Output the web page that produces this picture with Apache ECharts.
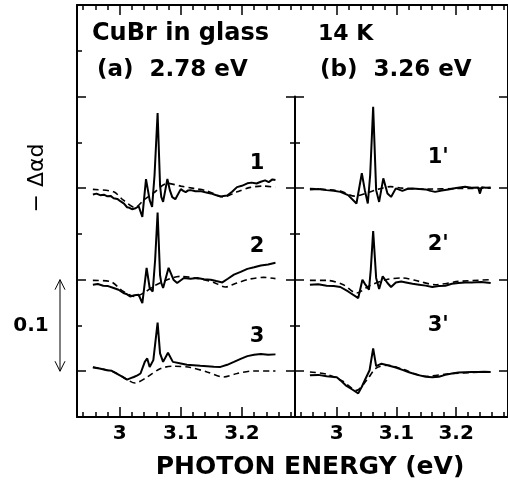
<!DOCTYPE html>
<html><head><meta charset="utf-8">
<script src="https://cdn.jsdelivr.net/npm/echarts@6/dist/echarts.min.js"></script>
<style>html,body{margin:0;padding:0;background:#fff}#c{width:508px;height:485px}</style>
</head><body><div id="c"></div>
<script>
// ---- tick values ----
const xMajorTicks = [3, 3.1, 3.2];
const xMinorTicks = [2.94, 2.96, 2.98, 3.02, 3.04, 3.06, 3.08, 3.12, 3.14, 3.16, 3.18, 3.22, 3.24, 3.26, 3.28];
const yMajorTicks = [0, 0.1, 0.2, 0.3];
const yMinorTicks = [0.05, 0.15, 0.25, 0.35];
const xRange = [2.93, 3.287];
const yRange = [-0.05, 0.4];
const dividerTop = 0.3;
const curveOffsets = [0.2, 0.1, 0];
const curveLabelsA = ['1', '2', '3'];
const curveLabelsB = ["1'", "2'", "3'"];
const labelPosA = [[3.225, 0.027], [3.225, 0.036], [3.225, 0.038]];
const labelPosB = [[3.17, 0.033], [3.17, 0.038], [3.17, 0.050]];
const scaleBar = [0, 0.1];

// ---- panel (a) 2.78 eV : [energy, -Δαd relative to its own baseline] ----
const a1Solid = [[2.956,-0.0069],[2.962,-0.0060],[2.968,-0.0077],[2.974,-0.0072],[2.979,-0.0088],[2.985,-0.0085],[2.990,-0.0110],[2.996,-0.0118],[3.001,-0.0143],[3.007,-0.0170],[3.012,-0.0209],[3.016,-0.0215],[3.020,-0.0231],[3.026,-0.0220],[3.031,-0.0198],[3.037,-0.0315],[3.043,0.0099],[3.049,-0.0132],[3.053,-0.0205],[3.057,0.0143],[3.062,0.0821],[3.066,0.0033],[3.068,-0.0096],[3.071,-0.0151],[3.078,0.0099],[3.082,-0.0022],[3.086,-0.0099],[3.091,-0.0121],[3.100,-0.0011],[3.104,-0.0030],[3.108,-0.0044],[3.112,-0.0025],[3.116,-0.0022],[3.124,-0.0035],[3.132,-0.0033],[3.140,-0.0045],[3.149,-0.0058],[3.157,-0.0075],[3.165,-0.0093],[3.170,-0.0085],[3.176,-0.0082],[3.184,-0.0040],[3.192,0.0011],[3.200,0.0025],[3.209,0.0052],[3.216,0.0060],[3.224,0.0050],[3.231,0.0069],[3.238,0.0085],[3.244,0.0065],[3.250,0.0095],[3.255,0.0088]];
const a1Dash = [[2.956,-0.0014],[2.990,-0.0041],[3.006,-0.0132],[3.025,-0.0212],[3.039,-0.0132],[3.055,-0.0055],[3.078,0.0052],[3.100,0.0022],[3.121,-0.0003],[3.143,-0.0030],[3.170,-0.0096],[3.192,-0.0041],[3.214,0.0008],[3.236,0.0022],[3.255,0.0008]];
const a2Solid = [[2.956,-0.0055],[2.964,-0.0048],[2.973,-0.0066],[2.981,-0.0070],[2.990,-0.0091],[2.998,-0.0110],[3.006,-0.0146],[3.012,-0.0160],[3.017,-0.0184],[3.024,-0.0170],[3.031,-0.0165],[3.037,-0.0256],[3.044,0.0129],[3.049,-0.0091],[3.054,-0.0129],[3.058,0.0220],[3.062,0.0733],[3.066,0.0050],[3.068,-0.0036],[3.071,-0.0091],[3.080,0.0129],[3.088,0.0000],[3.094,-0.0036],[3.105,0.0019],[3.116,0.0010],[3.127,0.0019],[3.138,0.0005],[3.149,0.0000],[3.158,-0.0015],[3.168,-0.0030],[3.177,0.0010],[3.187,0.0055],[3.198,0.0085],[3.209,0.0118],[3.220,0.0135],[3.231,0.0154],[3.243,0.0165],[3.255,0.0184]];
const a2Dash = [[2.956,-0.0008],[2.984,-0.0019],[3.006,-0.0129],[3.025,-0.0184],[3.039,-0.0146],[3.060,-0.0055],[3.100,0.0036],[3.132,0.0008],[3.154,-0.0030],[3.173,-0.0080],[3.192,-0.0036],[3.214,0.0008],[3.236,0.0025],[3.255,0.0011]];
const a3Solid = [[2.956,0.0041],[2.967,0.0030],[2.979,0.0011],[2.987,0.0005],[2.995,-0.0025],[3.004,-0.0060],[3.012,-0.0091],[3.018,-0.0075],[3.023,-0.0063],[3.029,-0.0045],[3.034,-0.0025],[3.041,0.0102],[3.045,0.0140],[3.049,0.0047],[3.055,0.0121],[3.062,0.0531],[3.066,0.0195],[3.071,0.0102],[3.079,0.0201],[3.087,0.0102],[3.100,0.0085],[3.110,0.0070],[3.121,0.0066],[3.132,0.0060],[3.143,0.0055],[3.154,0.0050],[3.165,0.0047],[3.176,0.0070],[3.187,0.0102],[3.198,0.0135],[3.209,0.0165],[3.220,0.0180],[3.231,0.0187],[3.243,0.0180],[3.255,0.0184]];
const a3Dash = [[2.956,0.0047],[2.990,-0.0008],[3.012,-0.0091],[3.025,-0.0129],[3.045,-0.0063],[3.067,0.0030],[3.088,0.0055],[3.116,0.0041],[3.143,-0.0008],[3.170,-0.0063],[3.192,-0.0025],[3.220,0.0003],[3.255,0.0003]];

// ---- panel (b) 3.26 eV ----
const b1Solid = [[2.955,-0.0014],[2.969,-0.0010],[2.983,-0.0022],[2.995,-0.0030],[3.006,-0.0041],[3.019,-0.0077],[3.033,-0.0168],[3.042,0.0162],[3.047,-0.0022],[3.052,-0.0168],[3.056,0.0143],[3.061,0.0887],[3.066,-0.0022],[3.071,-0.0151],[3.078,0.0107],[3.085,-0.0058],[3.091,-0.0096],[3.099,-0.0003],[3.110,-0.0030],[3.118,-0.0010],[3.127,-0.0003],[3.138,-0.0010],[3.149,-0.0014],[3.157,-0.0030],[3.165,-0.0041],[3.176,-0.0025],[3.187,-0.0014],[3.200,0.0000],[3.215,0.0014],[3.226,0.0005],[3.237,0.0008],[3.240,-0.0060],[3.243,0.0010],[3.250,0.0005],[3.258,0.0008]];
const b1Dash = [[2.955,-0.0005],[3.006,-0.0033],[3.030,-0.0088],[3.050,-0.0055],[3.070,-0.0011],[3.090,0.0016],[3.110,0.0000],[3.150,-0.0011],[3.200,-0.0005],[3.258,0.0000]];
const b2Solid = [[2.955,-0.0055],[2.969,-0.0050],[2.983,-0.0066],[2.995,-0.0070],[3.006,-0.0080],[3.019,-0.0129],[3.036,-0.0201],[3.043,0.0000],[3.048,-0.0055],[3.054,-0.0110],[3.057,0.0110],[3.061,0.0531],[3.066,0.0019],[3.071,-0.0102],[3.077,0.0036],[3.085,-0.0036],[3.091,-0.0080],[3.099,-0.0030],[3.108,-0.0020],[3.116,-0.0030],[3.127,-0.0045],[3.138,-0.0055],[3.149,-0.0065],[3.160,-0.0080],[3.171,-0.0070],[3.182,-0.0066],[3.193,-0.0045],[3.204,-0.0036],[3.215,-0.0030],[3.226,-0.0030],[3.242,-0.0025],[3.258,-0.0036]];
const b2Dash = [[2.955,-0.0008],[2.983,-0.0008],[3.011,-0.0055],[3.033,-0.0146],[3.055,-0.0066],[3.083,0.0000],[3.110,0.0019],[3.138,-0.0019],[3.165,-0.0055],[3.204,-0.0019],[3.258,0.0000]];
const b3Solid = [[2.955,-0.0044],[2.969,-0.0040],[2.983,-0.0055],[3.000,-0.0066],[3.008,-0.0110],[3.015,-0.0154],[3.026,-0.0200],[3.036,-0.0242],[3.042,-0.0170],[3.047,-0.0099],[3.055,0.0011],[3.061,0.0249],[3.066,0.0055],[3.075,0.0082],[3.085,0.0066],[3.099,0.0041],[3.110,0.0015],[3.121,-0.0011],[3.135,-0.0040],[3.149,-0.0060],[3.160,-0.0065],[3.171,-0.0060],[3.182,-0.0040],[3.193,-0.0025],[3.204,-0.0015],[3.215,-0.0011],[3.226,-0.0008],[3.237,-0.0008],[3.247,-0.0005],[3.258,-0.0008]];
const b3Dash = [[2.955,-0.0008],[2.983,-0.0033],[3.010,-0.0110],[3.033,-0.0209],[3.050,-0.0099],[3.066,0.0033],[3.085,0.0066],[3.110,0.0022],[3.150,-0.0055],[3.190,-0.0027],[3.258,-0.0005]];

const panelA = [[a1Solid, a1Dash], [a2Solid, a2Dash], [a3Solid, a3Dash]];
const panelB = [[b1Solid, b1Dash], [b2Solid, b2Dash], [b3Solid, b3Dash]];

// ---- layout ----
const FONT = '"DejaVu Sans", sans-serif';
const G = { top: 5, height: 412 };
const gridA = { left: 77, top: G.top, width: 218, height: G.height };
const gridB = { left: 295, top: G.top, width: 216, height: G.height };
const divTop = G.top + (yRange[1] - dividerTop) / (yRange[1] - yRange[0]) * G.height;
const gridD = { left: 295, top: divTop, width: 10, height: G.top + G.height - divTop };

const chart = echarts.init(document.getElementById('c'), null, { renderer: 'canvas' });

function xAx(gridIndex, pos, major, showLine, showLabel) {
  return {
    type: 'value', gridIndex, position: pos, min: xRange[0], max: xRange[1],
    axisLine: { show: showLine, onZero: false, lineStyle: { color: '#000', width: 2 } },
    axisTick: { show: true, inside: true, length: major ? 10 : 5, customValues: major ? xMajorTicks : xMinorTicks, lineStyle: { color: '#000', width: 1.5 } },
    axisLabel: showLabel ? { show: true, customValues: xMajorTicks, margin: 7, color: '#000', fontFamily: FONT, fontWeight: 'bold', fontSize: 20 } : { show: false },
    splitLine: { show: false }
  };
}
function yAx(gridIndex, pos, major, showLine, inside, maxV, customMajor) {
  return {
    type: 'value', gridIndex, position: pos, min: yRange[0], max: maxV,
    axisLine: { show: showLine, onZero: false, lineStyle: { color: '#000', width: 2 } },
    axisTick: { show: true, inside, length: major ? 9 : 5, customValues: major ? customMajor : yMinorTicks.filter(v => v <= maxV), lineStyle: { color: '#000', width: 1.5 } },
    axisLabel: { show: false }, splitLine: { show: false }
  };
}

const xAxes = [
  xAx(0, 'bottom', true, true, true),
  xAx(0, 'bottom', false, false, false),
  xAx(0, 'top', true, true, false),
  xAx(0, 'top', false, false, false),
  xAx(1, 'bottom', true, true, true),
  xAx(1, 'bottom', false, false, false),
  xAx(1, 'top', true, true, false),
  xAx(1, 'top', false, false, false),
  { type: 'value', gridIndex: 2, show: false, min: 0, max: 1 }
];
const yAxes = [
  yAx(0, 'left', true, true, true, yRange[1], yMajorTicks),
  yAx(0, 'left', false, false, true, yRange[1], yMajorTicks),
  Object.assign(yAx(1, 'left', true, false, true, yRange[1], yMajorTicks), { axisTick: { show: false } }),
  yAx(1, 'right', true, true, true, yRange[1], yMajorTicks),
  yAx(2, 'left', true, true, true, dividerTop, yMajorTicks),
  yAx(2, 'left', false, false, true, dividerTop, yMajorTicks),
  yAx(2, 'left', true, false, false, dividerTop, yMajorTicks),
  yAx(2, 'left', false, false, false, dividerTop, yMajorTicks)
];

const series = [];
function addPanel(panel, xi, yi) {
  panel.forEach((pair, k) => {
    const off = curveOffsets[k];
    series.push({ type: 'line', xAxisIndex: xi, yAxisIndex: yi, data: pair[1].map(p => [p[0], p[1] + off]), showSymbol: false, symbol: 'none', smooth: 0.3, lineStyle: { color: '#000', width: 1.6, type: [6, 4] }, z: 2, silent: true, animation: false });
  });
  panel.forEach((pair, k) => {
    const off = curveOffsets[k];
    series.push({ type: 'line', xAxisIndex: xi, yAxisIndex: yi, data: pair[0].map(p => [p[0], p[1] + off]), showSymbol: false, symbol: 'none', lineStyle: { color: '#000', width: 2 }, z: 3, silent: true, animation: false });
  });
}
addPanel(panelA, 0, 0);
addPanel(panelB, 4, 2);

chart.setOption({
  animation: false,
  backgroundColor: '#fff',
  grid: [gridA, gridB, gridD],
  xAxis: xAxes, yAxis: yAxes, series
});

// ---- annotations positioned from the axes ----
const px = (xi, yi, x, y) => chart.convertToPixel({ xAxisIndex: xi, yAxisIndex: yi }, [x, y]);
const txt = (text, x, y, size, weight, align, extra) => Object.assign({
  type: 'text', x, y, z: 10,
  style: { text, fill: '#000', font: `${weight} ${size}px ${FONT}`, textAlign: align, textVerticalAlign: 'middle' }
}, extra || {});

const graphics = [];
graphics.push(txt('CuBr in glass', 92, 34, 24, 'bold', 'left'));
graphics.push(txt('(a)  2.78 eV', 97, 70, 23, 'bold', 'left'));
graphics.push(txt('14 K', 318, 34, 22, 'bold', 'left'));
graphics.push(txt('(b)  3.26 eV', 320, 70, 23, 'bold', 'left'));
graphics.push(txt('PHOTON ENERGY (eV)', 310, 467, 25, 'bold', 'center'));
graphics.push(txt('\u2212 \u0394\u03b1d', 37, 178, 22, 'normal', 'center', { rotation: Math.PI / 2 }));

curveLabelsA.forEach((t, k) => { const p = px(0, 0, labelPosA[k][0], curveOffsets[k] + labelPosA[k][1]); graphics.push(txt(t, p[0], p[1], 21, 'bold', 'center')); });
curveLabelsB.forEach((t, k) => { const p = px(4, 2, labelPosB[k][0], curveOffsets[k] + labelPosB[k][1]); graphics.push(txt(t, p[0], p[1], 21, 'bold', 'center')); });

// scale bar (0.1)
const sb0 = px(0, 0, xRange[0], scaleBar[0]);
const sb1 = px(0, 0, xRange[0], scaleBar[1]);
const ax = 60;
graphics.push({ type: 'polyline', z: 10, shape: { points: [[ax, sb1[1]], [ax, sb0[1]]] }, style: { stroke: '#000', lineWidth: 1, fill: null } });
graphics.push({ type: 'polyline', z: 10, shape: { points: [[ax - 5, sb1[1] + 10], [ax, sb1[1]], [ax + 5, sb1[1] + 10]] }, style: { stroke: '#000', lineWidth: 1, fill: null } });
graphics.push({ type: 'polyline', z: 10, shape: { points: [[ax - 5, sb0[1] - 10], [ax, sb0[1]], [ax + 5, sb0[1] - 10]] }, style: { stroke: '#000', lineWidth: 1, fill: null } });
graphics.push(txt('0.1', 31, (sb0[1] + sb1[1]) / 2, 20, 'bold', 'center'));

chart.setOption({ graphic: graphics });
</script></body></html>
